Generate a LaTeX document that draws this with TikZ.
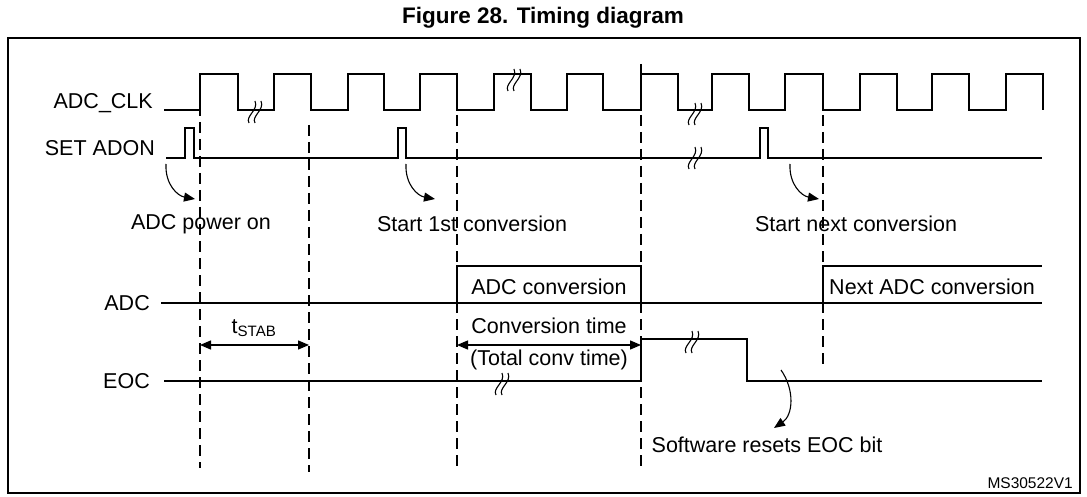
\documentclass[tikz,border=0pt]{standalone}
\usepackage{fontspec}
\setmainfont{Liberation Sans}
\usetikzlibrary{arrows.meta}
\begin{document}
\begin{tikzpicture}[x=1pt,y=-1pt,
  sig/.style={line width=1.6pt},
  thin sig/.style={line width=1.1pt},
  dsh/.style={line width=1.4pt,dash pattern=on 11pt off 6pt},
  lbl/.style={font=\fontsize{21.5}{24}\selectfont,inner sep=0pt},
  arr/.style={line width=1.1pt,-{Triangle[length=11pt,width=9pt]}},
  dim/.style={line width=1.3pt,{Triangle[length=11pt,width=9pt]}-{Triangle[length=11pt,width=9pt]}},
  sq/.pic={\draw[line width=1.1pt] (-6,11) .. controls (-10,4) and (4,-2) .. (0,-11);
           \draw[line width=1.1pt] (0,11) .. controls (-4,4) and (10,-2) .. (6,-11);}]
\useasboundingbox (0,0) rectangle (1087,497);
\node[font=\bfseries\fontsize{22.5}{26}\selectfont,inner sep=0pt] (title) at (543,18) {Figure 28. Timing diagram};
\draw[line width=1.3pt] (8,38) rectangle (1080,493);
% labels
\node[lbl,anchor=east] (lclk) at (153,103) {ADC\_CLK};
\node[lbl,anchor=east] (lset) at (155,148) {SET ADON};
\node[lbl,anchor=east] (ladc) at (150,303) {ADC};
\node[lbl,anchor=east] (leoc) at (150,381) {EOC};
% clock
\draw[sig] (164,110) -- (200,110) -- (200,74) -- (238,74) -- (238,110) -- (274,110) -- (274,74) -- (311,74) -- (311,110)
  -- (348,110) -- (348,74) -- (384,74) -- (384,110) -- (420,110) -- (420,74) -- (457,74) -- (457,110)
  -- (494,110) -- (494,74) -- (531,74) -- (531,110) -- (567,110) -- (567,74) -- (603,74) -- (603,110)
  -- (641,110) -- (641,74) -- (678,74) -- (678,110) -- (712,110) -- (712,74) -- (749,74) -- (749,110)
  -- (785,110) -- (785,74) -- (823,74) -- (823,110) -- (860,110) -- (860,74) -- (897,74) -- (897,110)
  -- (932,110) -- (932,74) -- (969,74) -- (969,110) -- (1006,110) -- (1006,74) -- (1043,74) -- (1043,110);
\pic at (255,112) {sq};
\pic at (514,80) {sq};
\pic at (695,114) {sq};
% set adon
\draw[thin sig] (166,158) -- (185,158) -- (185,128) -- (194,128) -- (194,158) -- (398,158) -- (398,128) -- (406,128) -- (406,158)
  -- (760,158) -- (760,128) -- (768,128) -- (768,158) -- (1042,158);
\pic at (695,158) {sq};
% dashed verticals
\draw[dsh] (200,88) -- (200,468);
\draw[dsh] (309,125) -- (309,472);
\draw[dsh] (457,98) -- (457,468);
\draw[dsh] (641,64) -- (641,468);
\draw[dsh] (823,98) -- (823,368);
% curved arrows
\coordinate (a1s) at (166,164); \coordinate (a1e) at (195,199);
\coordinate (a2s) at (406,164); \coordinate (a2e) at (435,199);
\coordinate (a3s) at (790,164); \coordinate (a3e) at (819,199);
\draw[arr] (a1s) .. controls (165,185) and (178,196) .. (a1e);
\draw[arr] (a2s) .. controls (405,185) and (418,196) .. (a2e);
\draw[arr] (a3s) .. controls (789,185) and (802,196) .. (a3e);
\node[lbl] (pwr) at (201,224) {ADC power on};
\node[lbl] (st1) at (472,224) {Start 1st conversion};
\node[lbl] (stn) at (856,224) {Start next conversion};
% ADC
\draw[thin sig] (161,303) -- (1042,303);
\draw[thin sig] (457,303) -- (457,266) -- (641,266) -- (641,303);
\draw[thin sig] (823,303) -- (823,266) -- (1042,266);
\node[lbl] (conv) at (549,287) {ADC conversion};
\node[lbl] (nconv) at (932,287) {Next ADC conversion};
% tstab and conv time
\node[lbl] (tstab) at (254,328) {t\textsubscript{STAB}};
\coordinate (ts1) at (200,345); \coordinate (ts2) at (309,345);
\draw[dim] (ts1) -- (ts2);
\node[lbl] (ctime) at (549,326) {Conversion time};
\node[lbl] (ttime) at (549,360) {(Total conv time)};
\coordinate (ct1) at (457,345); \coordinate (ct2) at (641,345);
\draw[dim] (ct1) -- (ct2);
% EOC
\draw[thin sig] (164,381) -- (641,381) -- (641,339) -- (747,339) -- (747,381) -- (1042,381);
\pic at (502,384) {sq};
\pic at (692,342) {sq};
\coordinate (e1s) at (781,370); \coordinate (e1e) at (774,428);
\draw[arr] (e1s) .. controls (795,390) and (793,415) .. (e1e);
\node[lbl] (soft) at (767,445) {Software resets EOC bit};
\node[lbl,anchor=east,font=\fontsize{15.5}{18}\selectfont] (ms) at (1073,483) {MS30522V1};
\end{tikzpicture}
\end{document}
